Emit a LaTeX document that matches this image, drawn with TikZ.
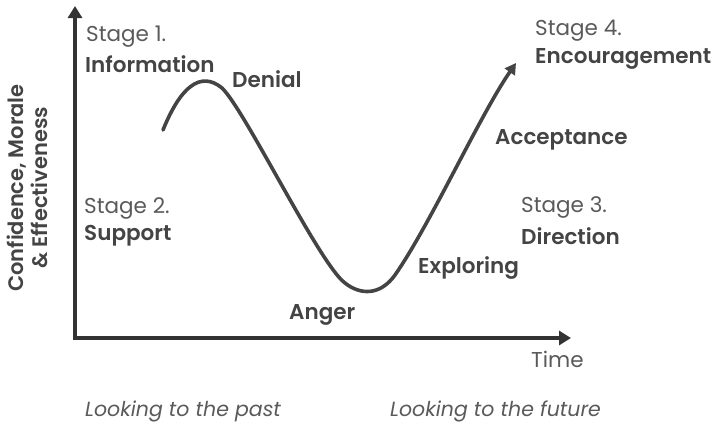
\documentclass[tikz,border=0pt]{standalone}
\usepackage{fontspec}
\setmainfont{Poppins}[BoldFont={Poppins SemiBold}]
\usetikzlibrary{arrows.meta}
\definecolor{axisgray}{HTML}{333333}
\definecolor{labelgray}{HTML}{444444}
\definecolor{stagegray}{HTML}{5A5A5A}
\begin{document}
\begin{tikzpicture}[x=1pt,y=-1pt,
  stagetxt/.style={anchor=west,inner sep=0pt,text=stagegray,font=\fontsize{21.5}{24}\selectfont},
  phase/.style={anchor=west,inner sep=0pt,text=labelgray,font=\fontsize{21.5}{24}\selectfont\bfseries},
  note/.style={anchor=west,inner sep=0pt,text=stagegray,font=\fontsize{20.5}{24}\selectfont\itshape},
  axisline/.style={draw=axisgray,line width=3.3pt,line join=miter},
  curve/.style={draw=labelgray,line width=3.6pt,line cap=round}]
\useasboundingbox (0,0) rectangle (716,423);
% axes
\coordinate (origin) at (75,338);
\coordinate (ytop) at (75,6);
\coordinate (xend) at (571,338);
\draw[axisline,{Triangle[length=12pt,width=14pt]}-{Triangle[length=12pt,width=14pt]}] (ytop) -- (origin) -- (xend);
% change curve
\coordinate (start) at (163,130);
\coordinate (finish) at (516,63);
\draw[curve,-{Triangle[length=11pt,width=12pt]}] (start) .. controls (180,88) and (200,70) .. (222,88)
  .. controls (245,110) and (320,265) .. (345,283)
  .. controls (360,295) and (380,296) .. (395,275)
  .. controls (430,225) and (480,115) .. (finish);
% stage labels
\node[stagetxt] (s1) at (86,37) {Stage 1.};
\node[phase] (s1b) at (85,64) {Information};
\node[stagetxt] (s2) at (84,208) {Stage 2.};
\node[phase] (s2b) at (84,236) {Support};
\node[stagetxt] (s3) at (521,207) {Stage 3.};
\node[phase] (s3b) at (521,236) {Direction};
\node[stagetxt] (s4) at (535,31) {Stage 4.};
\node[phase] (s4b) at (535,59) {Encouragement};
% phase labels
\node[phase] (denial) at (232,79) {Denial};
\node[phase] (anger) at (289,315) {Anger};
\node[phase] (explore) at (418,268) {Exploring};
\node[phase] (accept) at (495,140) {Acceptance};
% axis labels
\node[stagetxt] (time) at (531,359) {Time};
\node[phase,anchor=center,rotate=90,align=center,font=\fontsize{21}{24}\selectfont\bfseries] (ylab) at (27,188) {Confidence, Morale\\\& Effectiveness};
% notes
\node[note] (past) at (85,411) {Looking to the past};
\node[note] (future) at (390,411) {Looking to the future};
\end{tikzpicture}
\end{document}
